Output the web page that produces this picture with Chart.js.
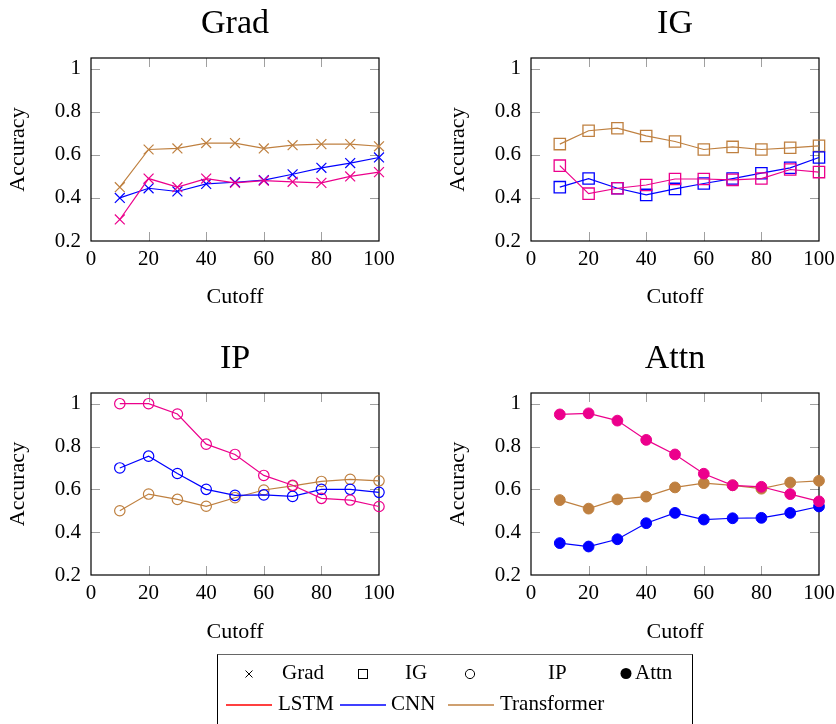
<!DOCTYPE html>
<html>
<head>
<meta charset="utf-8">
<title>Accuracy vs cutoff</title>
<script src="https://cdn.jsdelivr.net/npm/chart.js@4.4.1/dist/chart.umd.min.js"></script>
<style>
  body { margin: 0; width: 836px; height: 724px; background: #fff; position: relative; overflow: hidden;
         font-family: "Liberation Serif", serif; color: #000; }
  canvas.panel { position: absolute; }
  #legendBox { position: absolute; left: 217px; top: 654px; width: 476px; height: 100px;
               border: 1px solid #000; border-top-color: #666; box-sizing: border-box; }
  #legendMarks { position: absolute; left: 0; top: 0; }
  .lg { position: absolute; font-size: 21px; line-height: 1; white-space: nowrap; }
</style>
</head>
<body>
<canvas class="panel" id="gradChart" width="470" height="320" style="left:0;top:0"></canvas>
<canvas class="panel" id="igChart" width="470" height="320" style="left:440px;top:0"></canvas>
<canvas class="panel" id="ipChart" width="470" height="320" style="left:0;top:335px"></canvas>
<canvas class="panel" id="attnChart" width="470" height="320" style="left:440px;top:335px"></canvas>

<div id="legendBox"></div>
<svg id="legendMarks" width="836" height="724">
  <!-- marker row -->
  <path d="M245.5 670.5 L252.5 677.5 M252.5 670.5 L245.5 677.5" stroke="#000" stroke-width="1"/>
  <rect x="358.5" y="669.5" width="9" height="9" fill="none" stroke="#000" stroke-width="1"/>
  <circle cx="470" cy="674" r="4.6" fill="none" stroke="#000" stroke-width="1"/>
  <circle cx="626" cy="673.5" r="5.5" fill="#000"/>
  <!-- model row -->
  <line x1="226" y1="705" x2="272" y2="705" stroke="#ff0000" stroke-width="1.6"/>
  <line x1="340" y1="705" x2="386" y2="705" stroke="#0000ff" stroke-width="1.6"/>
  <line x1="448" y1="705" x2="494" y2="705" stroke="#bf8040" stroke-width="1.6"/>
</svg>
<span class="lg" style="left:282px;top:662px">Grad</span>
<span class="lg" style="left:405px;top:662px">IG</span>
<span class="lg" style="left:548px;top:662px">IP</span>
<span class="lg" style="left:635px;top:662px">Attn</span>
<span class="lg" style="left:278px;top:693px">LSTM</span>
<span class="lg" style="left:391px;top:693px">CNN</span>
<span class="lg" style="left:500px;top:693px">Transformer</span>

<script>
// cutoff values on the x axis
const cutoffs = [10, 20, 30, 40, 50, 60, 70, 80, 90, 100];
const xTicks = [0, 20, 40, 60, 80, 100];
const yTicks = [0.2, 0.4, 0.6, 0.8, 1];

// accuracy per explanation method and model
const gradLSTM        = [0.30, 0.49, 0.45, 0.49, 0.47, 0.48, 0.475, 0.47, 0.50, 0.52];
const gradCNN         = [0.40, 0.445, 0.43, 0.465, 0.473, 0.483, 0.51, 0.54, 0.562, 0.588];
const gradTransformer = [0.45, 0.625, 0.63, 0.655, 0.655, 0.63, 0.645, 0.65, 0.65, 0.64];

const igLSTM        = [0.55, 0.42, 0.445, 0.46, 0.488, 0.488, 0.484, 0.49, 0.532, 0.52];
const igCNN         = [0.45, 0.49, 0.445, 0.414, 0.442, 0.467, 0.49, 0.515, 0.54, 0.588];
const igTransformer = [0.65, 0.712, 0.724, 0.688, 0.662, 0.625, 0.637, 0.625, 0.633, 0.642];

const ipLSTM        = [1.0, 1.0, 0.952, 0.811, 0.763, 0.665, 0.619, 0.558, 0.55, 0.52];
const ipCNN         = [0.70, 0.755, 0.674, 0.60, 0.572, 0.574, 0.567, 0.60, 0.60, 0.586];
const ipTransformer = [0.50, 0.578, 0.553, 0.521, 0.561, 0.597, 0.616, 0.637, 0.647, 0.64];

const attnLSTM        = [0.95, 0.955, 0.921, 0.831, 0.763, 0.673, 0.619, 0.612, 0.578, 0.544];
const attnCNN         = [0.349, 0.333, 0.367, 0.442, 0.49, 0.459, 0.465, 0.467, 0.49, 0.52];
const attnTransformer = [0.55, 0.51, 0.553, 0.566, 0.609, 0.629, 0.619, 0.603, 0.632, 0.64];

const colors = { lstm: '#ec008c', cnn: '#0000ff', transformer: '#bf8040' };
const serif = '"Liberation Serif", serif';

// box around the plot area with short grey ticks pointing inwards
const framePlugin = {
  id: 'frame',
  beforeDatasetsDraw(chart) {
    const { ctx, chartArea: a, scales: { x, y } } = chart;
    const len = 9;
    ctx.save();
    ctx.strokeStyle = '#a0a0a0';
    ctx.lineWidth = 1;
    ctx.beginPath();
    xTicks.slice(1, -1).forEach(v => {
      const px = Math.round(x.getPixelForValue(v)) + 0.5;
      ctx.moveTo(px, a.top); ctx.lineTo(px, a.top + len);
      ctx.moveTo(px, a.bottom); ctx.lineTo(px, a.bottom - len);
    });
    yTicks.slice(1).forEach(v => {
      const py = Math.round(y.getPixelForValue(v)) + 0.5;
      ctx.moveTo(a.left, py); ctx.lineTo(a.left + len, py);
      ctx.moveTo(a.right, py); ctx.lineTo(a.right - len, py);
    });
    ctx.stroke();
    ctx.strokeStyle = '#000';
    ctx.lineWidth = 1.2;
    ctx.strokeRect(a.left, a.top, a.right - a.left, a.bottom - a.top);
    ctx.restore();
  }
};

function series(label, values, color, marker) {
  return {
    label: label,
    data: cutoffs.map((c, i) => ({ x: c, y: values[i] })),
    borderColor: color,
    borderWidth: 1.2,
    pointStyle: marker.style,
    pointRadius: marker.radius,
    pointBorderColor: color,
    pointBorderWidth: marker.width,
    pointBackgroundColor: marker.filled ? color : 'rgba(0,0,0,0)',
    tension: 0,
    clip: false
  };
}

function makePanel(id, title, marker, lstm, cnn, transformer, xHeight) {
  new Chart(document.getElementById(id), {
    type: 'line',
    data: {
      datasets: [
        series('LSTM', lstm, colors.lstm, marker),
        series('CNN', cnn, colors.cnn, marker),
        series('Transformer', transformer, colors.transformer, marker)
      ]
    },
    plugins: [framePlugin],
    options: {
      responsive: false,
      animation: false,
      events: [],
      layout: { padding: { left: 0, right: 91, top: 0, bottom: 0 } },
      plugins: {
        legend: { display: false },
        tooltip: { enabled: false },
        title: {
          display: true,
          fullSize: false,
          text: title,
          color: '#000',
          font: { family: serif, size: 34, weight: 'normal', lineHeight: 1.2 },
          padding: { top: 4, bottom: 13.2 }
        }
      },
      scales: {
        x: {
          type: 'linear',
          min: 0,
          max: 100,
          afterBuildTicks: s => { s.ticks = xTicks.map(v => ({ value: v })); },
          afterFit: s => { s.height = xHeight; },
          grid: { display: false, drawTicks: false },
          border: { display: false },
          ticks: { color: '#000', padding: 6, font: { family: serif, size: 21 }, callback: v => String(v) },
          title: { display: true, text: 'Cutoff', color: '#000',
                   font: { family: serif, size: 22, lineHeight: 1.2 }, padding: { top: 0, bottom: 10 } }
        },
        y: {
          type: 'linear',
          min: 0.2,
          max: 1.05,
          afterBuildTicks: s => { s.ticks = yTicks.map(v => ({ value: v })); },
          afterFit: s => { s.width = 91; },
          grid: { display: false, drawTicks: false },
          border: { display: false },
          ticks: { color: '#000', padding: 10, font: { family: serif, size: 21 }, callback: v => String(v) },
          title: { display: true, text: 'Accuracy', color: '#000',
                   font: { family: serif, size: 22, lineHeight: 1.2 }, padding: { top: 5, bottom: 0 } }
        }
      }
    }
  });
}

const cross  = { style: 'crossRot', radius: 7, width: 1.2, filled: false };
const square = { style: 'rect', radius: 8, width: 1.3, filled: false };
const ring   = { style: 'circle', radius: 5.2, width: 1.2, filled: false };
const dot    = { style: 'circle', radius: 5.4, width: 1, filled: true };

makePanel('gradChart', 'Grad', cross, gradLSTM, gradCNN, gradTransformer, 79);
makePanel('igChart', 'IG', square, igLSTM, igCNN, igTransformer, 79);
makePanel('ipChart', 'IP', ring, ipLSTM, ipCNN, ipTransformer, 80);
makePanel('attnChart', 'Attn', dot, attnLSTM, attnCNN, attnTransformer, 80);
</script>
</body>
</html>
